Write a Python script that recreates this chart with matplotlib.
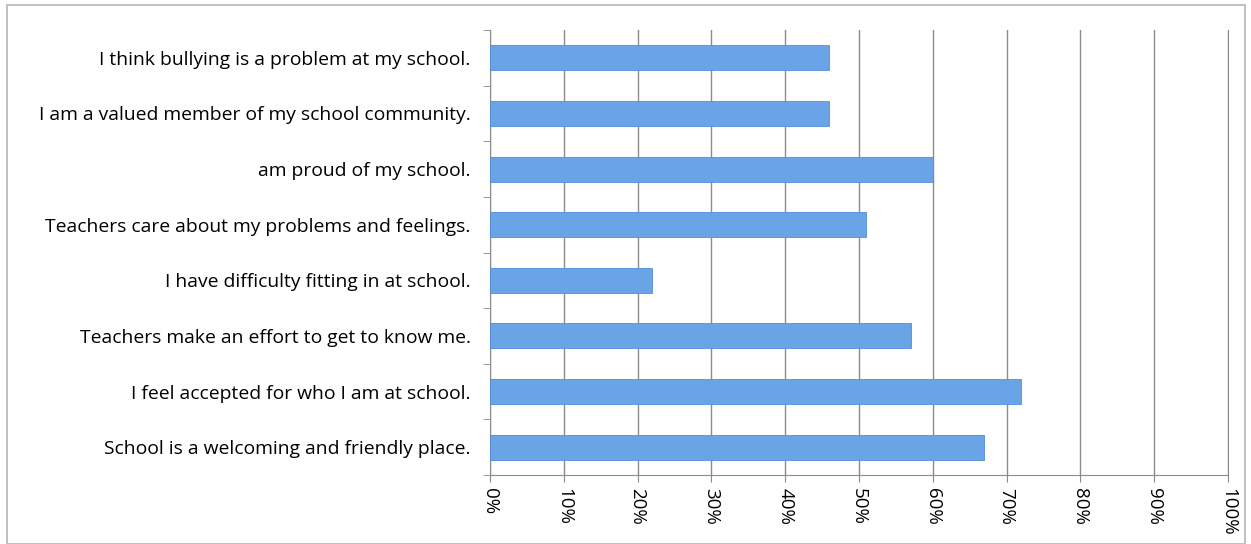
"""Horizontal bar chart of school climate survey agreement rates."""

import matplotlib.pyplot as plt
from matplotlib.patches import Rectangle
from matplotlib.ticker import FixedLocator, PercentFormatter

statements = [
    "School is a welcoming and friendly place.",
    "I feel accepted for who I am at school.",
    "Teachers make an effort to get to know me.",
    "I have difficulty fitting in at school.",
    "Teachers care about my problems and feelings.",
    "am proud of my school.",
    "I am a valued member of my school community.",
    "I think bullying is a problem at my school.",
]
percent_agree = [67, 72, 57, 22, 51, 60, 46, 46]
x_ticks = list(range(0, 101, 10))

plt.rcParams["font.family"] = ["Open Sans", "DejaVu Sans"]

fig = plt.figure(figsize=(12.51, 5.44), dpi=100)
ax = fig.add_axes([490 / 1251, 1 - 475 / 544, 738 / 1251, 445 / 544])

ypos = list(range(len(statements)))
ax.barh(ypos, percent_agree, height=0.45, color="#6aa3e6",
        edgecolor="#4f8fdc", linewidth=0.6, zorder=3)

ax.set_xlim(0, 100)
ax.set_ylim(-0.5, len(statements) - 0.5)
ax.set_xticks(x_ticks)
ax.xaxis.set_major_formatter(PercentFormatter(decimals=0))
ax.tick_params(axis="x", labelrotation=-90, labelsize=13.5, length=5,
               color="#888888", pad=4)
ax.set_yticks(ypos)
ax.set_yticklabels(statements, fontsize=13.9)
ax.tick_params(axis="y", length=0, pad=14)
ax.yaxis.set_minor_locator(FixedLocator([y + 0.5 for y in range(-1, len(statements))]))
ax.tick_params(axis="y", which="minor", length=5, color="#888888")

ax.grid(axis="x", color="#8c8c8c", linewidth=1.0, zorder=0)
ax.spines["top"].set_visible(False)
for side in ["left", "bottom", "right"]:
    ax.spines[side].set_color("#8c8c8c")

fig.patches.append(Rectangle((7 / 1251, 0), 1238 / 1251, 1 - 5 / 544,
                             transform=fig.transFigure, fill=False,
                             edgecolor="#b5b5b5", linewidth=1.2))

fig.savefig("out.png", dpi=100)
